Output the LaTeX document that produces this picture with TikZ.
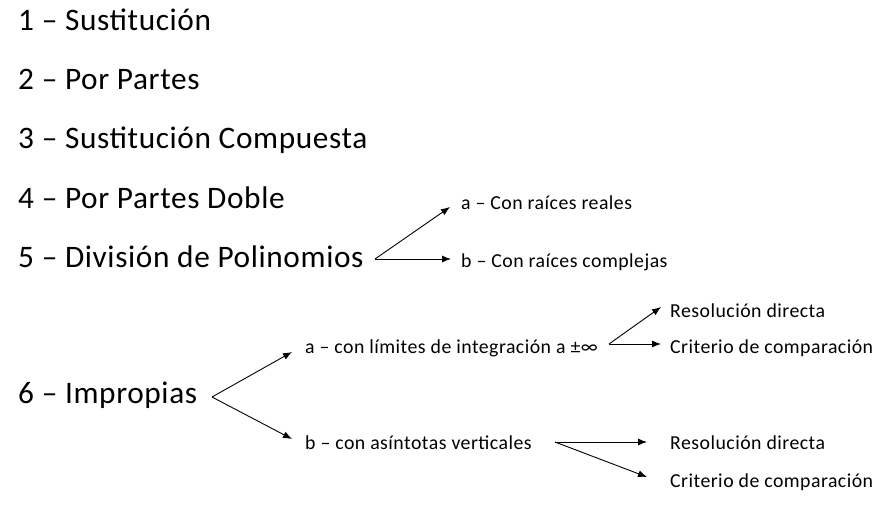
\documentclass[tikz,border=0pt]{standalone}
\usepackage{fontspec}
\setmainfont{Carlito}
\newfontfamily\bigfam[LetterSpace=2.0]{Carlito}
\newfontfamily\smallfam[LetterSpace=2.4]{Carlito}
\usetikzlibrary{arrows.meta}
\begin{document}
\begin{tikzpicture}[x=1pt,y=-1pt,
  big/.style={anchor=base west,inner sep=0pt,font=\bigfam\fontsize{31.3}{36}\selectfont},
  small/.style={anchor=base west,inner sep=0pt,font=\smallfam\fontsize{19.8}{23}\selectfont},
  arr/.style={line width=0.9pt,-{Latex[length=9pt,width=7pt]}}]
\useasboundingbox (0,0) rectangle (896,505);
\node[big] (n1) at (18,31) {1 – Sustitución};
\node[big] (n2) at (18,90) {2 – Por Partes};
\node[big] (n3) at (18,149) {3 – Sustitución Compuesta};
\node[big] (n4) at (18,208) {4 – Por Partes Doble};
\node[big] (n5) at (18,267) {5 – División de Polinomios};
\node[big] (n6) at (18,403) {6 – Impropias};
\node[small] (a5) at (461,209) {a – Con raíces reales};
\node[small] (b5) at (461,267) {b – Con raíces complejas};
\node[small] (a6) at (305,353) {a – con límites de integración a ±∞};
\node[small] (b6) at (305,449) {b – con asíntotas verticales};
\node[small] (ra) at (670,317) {Resolución directa};
\node[small] (ca) at (670,353) {Criterio de comparación};
\node[small] (rb) at (670,449) {Resolución directa};
\node[small] (cb) at (670,487) {Criterio de comparación};
\coordinate (s5) at (375,259);
\coordinate (t5a) at (450,207);
\coordinate (t5b) at (451,259);
\coordinate (s6) at (212,397);
\coordinate (t6a) at (292,352);
\coordinate (t6b) at (292,439);
\coordinate (sa) at (609,344);
\coordinate (taa) at (661,307);
\coordinate (tab) at (661,344);
\coordinate (sb) at (555,442);
\coordinate (tba) at (647,442);
\coordinate (tbb) at (647,477);
\draw[arr] (s5) -- (t5a);
\draw[arr] (s5) -- (t5b);
\draw[arr] (s6) -- (t6a);
\draw[arr] (s6) -- (t6b);
\draw[arr] (sa) -- (taa);
\draw[arr] (sa) -- (tab);
\draw[arr] (sb) -- (tba);
\draw[arr] (sb) -- (tbb);
\end{tikzpicture}
\end{document}
